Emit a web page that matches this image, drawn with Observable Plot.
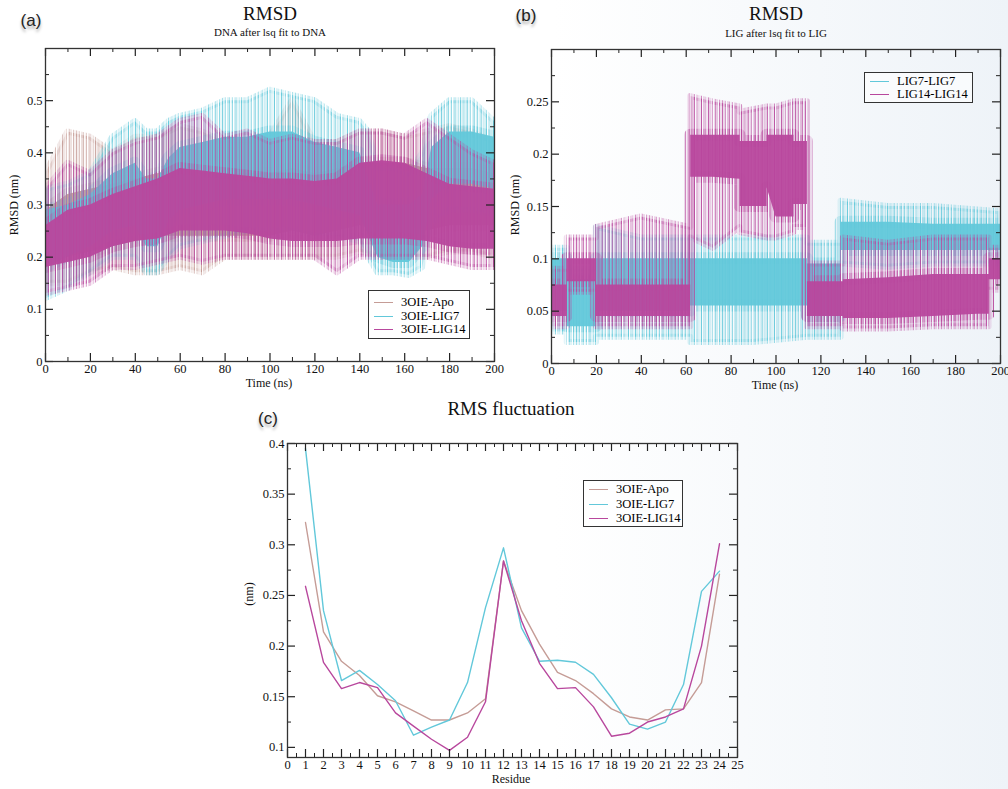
<!DOCTYPE html>
<html>
<head>
<meta charset="utf-8">
<script src="https://cdn.jsdelivr.net/npm/d3@7"></script>
<script src="https://cdn.jsdelivr.net/npm/@observablehq/plot@0.6"></script>
<style>
  html, body { margin: 0; padding: 0; }
  body { width: 1008px; height: 789px; overflow: hidden;
         background: linear-gradient(90deg, #ffffff 0%, #ffffff 55%, #eef3f8 100%); }
  #wrap { position: relative; width: 1008px; height: 789px; font-family: "Liberation Serif", serif; }
  .abs { position: absolute; white-space: nowrap; color: #111; }
  .c { transform: translate(-50%, -50%); }
  .title { font-size: 19px; }
  .sub { font-size: 11px; }
  .axl { font-size: 12px; }
  .rot { transform: translate(-50%, -50%) rotate(-90deg); }
  .pl { font-family: "Liberation Sans", Arial, sans-serif; font-size: 17px; color: #222;
        text-shadow: 0 3px 3px rgba(0,0,0,0.35), 0 0 2px #fff; }
  .leg { position: absolute; border: 1.3px solid #333; background: rgba(255,255,255,0.6); box-sizing: border-box; }
  .leg .row { position: absolute; left: 0; font-size: 12.5px; display: flex; align-items: center; }
  .leg .row span.ln { display: inline-block; width: 19px; height: 0; border-top: 1.5px solid; margin-left: 5px; margin-right: 8px; }
  .panel { position: absolute; overflow: visible; }
  .panel text { font-family: "Liberation Serif", serif !important; font-size: 12.5px !important; fill: #111; }
</style>
</head>
<body>
<svg width="0" height="0" style="position:absolute">
  <defs id="pats"></defs>
</svg>
<div id="wrap"></div>
<script>
// ---------------- data ----------------
// Panel (a): RMSD of DNA, envelopes (nm)
const tA = [0,10,20,30,40,50,60,70,80,90,100,110,120,130,140,150,160,170,180,190,200];
const apoCoreLo  = [.19,.20,.21,.22,.23,.24,.24,.24,.24,.24,.24,.25,.24,.25,.26,.26,.26,.25,.26,.26,.26];
const apoCoreHi  = [.29,.32,.33,.34,.35,.36,.37,.36,.36,.36,.36,.37,.36,.37,.38,.38,.38,.37,.37,.37,.36];
const apoSpikeLo = [.15,.15,.17,.18,.17,.17,.18,.17,.20,.20,.20,.20,.20,.20,.21,.20,.20,.20,.21,.21,.20];
const apoSpikeHi = [.36,.44,.43,.40,.43,.43,.45,.44,.42,.42,.43,.50,.42,.42,.44,.44,.43,.44,.45,.44,.42];

const l14aCoreLo  = [.18,.19,.20,.22,.23,.235,.25,.25,.25,.245,.235,.23,.23,.23,.235,.235,.235,.23,.22,.215,.215];
const l14aCoreHi  = [.26,.29,.30,.32,.335,.35,.37,.365,.36,.355,.35,.35,.345,.35,.38,.385,.38,.36,.34,.335,.33];
const l14aSpikeLo = [.13,.14,.15,.18,.18,.19,.20,.19,.20,.20,.20,.20,.20,.17,.20,.20,.20,.20,.19,.18,.18];
const l14aSpikeHi = [.33,.38,.36,.40,.42,.43,.46,.47,.43,.44,.42,.43,.42,.42,.44,.44,.43,.46,.43,.40,.38];

const tA7 = [0,10,20,30,40,45,50,55,60,70,80,90,100,110,120,130,140,144,148,155,162,168,172,180,190,200];
const l7aCoreLo  = [.18,.20,.22,.25,.26,.22,.22,.27,.29,.30,.31,.31,.31,.31,.30,.29,.28,.24,.20,.19,.19,.22,.31,.34,.34,.33];
const l7aCoreHi  = [.29,.30,.32,.36,.38,.35,.35,.39,.41,.42,.43,.43,.44,.44,.42,.41,.40,.35,.30,.30,.30,.32,.41,.44,.44,.43];
const l7aSpikeLo = [.12,.14,.17,.20,.20,.17,.17,.20,.22,.23,.24,.25,.25,.25,.24,.24,.23,.20,.17,.17,.165,.18,.26,.29,.29,.28];
const l7aSpikeHi = [.33,.34,.36,.43,.46,.44,.44,.46,.47,.48,.50,.50,.52,.51,.50,.47,.46,.44,.37,.37,.36,.40,.47,.50,.50,.46];

// Panel (b): RMSD of ligands (nm)
const tB7 = [0,7,7,20,20,40,62,62,90,114,114,129,129,150,170,200];
const l7bCoreLo  = [.05,.05,.035,.035,.05,.05,.05,.055,.055,.055,.045,.045,.108,.108,.108,.108];
const l7bCoreHi  = [.10,.10,.08,.08,.10,.10,.10,.10,.10,.10,.095,.095,.135,.135,.133,.133];
const l7bSpikeLo = [.03,.03,.02,.02,.025,.025,.025,.02,.02,.025,.025,.025,.095,.092,.095,.095];
const l7bSpikeHi = [.11,.11,.09,.09,.13,.12,.12,.12,.12,.12,.115,.115,.155,.15,.15,.145];

const tB14 = [0,7,7,20,20,40,62,62,72,84,84,96,96,100,108,108,114,114,130,130,150,170,190,195,195,200];
const l14bCoreLo  = [.045,.045,.078,.078,.045,.045,.045,.178,.178,.176,.15,.15,.168,.14,.14,.152,.152,.045,.045,.043,.043,.045,.047,.047,.08,.08];
const l14bCoreHi  = [.075,.075,.100,.100,.075,.075,.075,.218,.218,.218,.212,.212,.218,.218,.218,.212,.212,.078,.078,.080,.082,.085,.085,.085,.100,.100];
const l14bSpikeLo = [.035,.035,.068,.068,.035,.035,.035,.12,.11,.13,.125,.12,.12,.12,.125,.13,.13,.035,.035,.033,.033,.035,.035,.035,.07,.07];
const l14bSpikeHi = [.09,.09,.12,.12,.13,.14,.13,.255,.25,.245,.24,.245,.245,.245,.25,.25,.25,.095,.095,.12,.115,.12,.12,.12,.11,.11];

// Panel (c): RMS fluctuation per residue (nm)
const residues = [1,2,3,4,5,6,7,8,9,10,11,12,13,14,15,16,17,18,19,20,21,22,23,24];
const rmsfApo  = [.322,.214,.185,.171,.151,.145,.136,.127,.127,.134,.148,.284,.235,.202,.174,.166,.153,.138,.130,.127,.137,.138,.164,.271];
const rmsfL7   = [.395,.235,.166,.176,.162,.146,.112,.120,.127,.164,.238,.297,.218,.185,.186,.184,.172,.149,.123,.118,.125,.162,.254,.274];
const rmsfL14  = [.259,.184,.158,.164,.159,.134,.121,.108,.097,.110,.145,.284,.225,.183,.158,.159,.140,.111,.114,.125,.130,.138,.200,.301];

const seriesA = ["3OIE-Apo","3OIE-LIG7","3OIE-LIG14"];
const seriesB = ["LIG7-LIG7","LIG14-LIG14"];
const COL = {apo: "#c59c96", l7: "#62c8da", l14: "#b8479d"};

// ---------------- patterns (noise texture, style only) ----------------
const stripes = [[0,.9,.8],[1.7,.6,.5],[3.1,1.1,.9],[5.0,.5,.45],[6.2,.8,.7],[8.3,.6,.55],[9.6,1.2,.85],[11.9,.5,.4],[13.0,.9,.75],[15.2,.6,.5],[16.5,1.0,.9],[18.6,.5,.45],[19.8,.8,.65],[21.9,1.3,.85],[24.1,.6,.5],[25.5,.9,.8],[27.4,.5,.4],[28.6,1.1,.9],[30.8,.6,.55],[32.2,.8,.7],[34.3,.5,.45],[35.5,1.2,.85],[37.9,.6,.5],[39.2,.9,.8],[41.3,.5,.4],[42.6,1.0,.9],[44.8,.7,.6],[46.4,.5,.45],[47.7,1.2,.85],[50.1,.6,.5],[51.5,.8,.7],[53.6,.5,.4],[54.9,1.1,.9],[57.2,.6,.55],[58.6,.9,.75],[60.7,.5,.45],[62.0,1.3,.85],[64.5,.6,.5],[65.9,.8,.7],[68.0,.5,.4],[69.3,1.0,.9],[71.4,.6,.5]];
const defs = document.getElementById("pats");
for (const [key, col] of Object.entries(COL)) {
  let s = `<pattern id="pat-${key}" patternUnits="userSpaceOnUse" width="73" height="6">`;
  for (const [x, w, o] of stripes) s += `<rect x="${x}" y="0" width="${w}" height="6" fill="${col}" fill-opacity="${o}"/>`;
  s += `</pattern>`;
  defs.insertAdjacentHTML("beforeend", s);
}

// ---------------- helpers ----------------
const wrap = document.getElementById("wrap");
function rows(t, lo, hi, slo, shi) {
  return t.map((x, i) => ({x, lo: lo[i], hi: hi[i], slo: slo[i], shi: shi[i]}));
}
function fmt(d) { return String(+d.toFixed(3)); }
function range(a, b, s) { const r = []; for (let v = a; v <= b + 1e-9; v += s) r.push(+v.toFixed(4)); return r; }

function panel({left, top, width, height, mt, mr, mb, ml, xDomain, yDomain, xMajor, xMinor, yMajor, yMinor, yLabels, marks}) {
  const iw = width - ml - mr, ih = height - mt - mb;
  const tk = "#222";
  const p = Plot.plot({
    width, height, marginTop: mt, marginRight: mr, marginBottom: mb, marginLeft: ml,
    style: {fontFamily: "'Liberation Serif', serif", fontSize: "12.5px", color: "#111", background: "transparent", overflow: "visible"},
    x: {domain: xDomain, ticks: xMajor, tickSize: 0, tickPadding: 3, tickFormat: fmt, label: null},
    y: {domain: yDomain, ticks: yLabels, tickSize: 0, tickPadding: 3, tickFormat: fmt, label: null},
    marks: [
      ...marks,
      Plot.ruleX(xMajor, {x: d => d, insetTop: ih - 8, stroke: tk, strokeWidth: 1.2}),
      Plot.ruleX(xMajor, {x: d => d, insetBottom: ih - 8, stroke: tk, strokeWidth: 1.2}),
      Plot.ruleX(xMinor, {x: d => d, insetTop: ih - 4, stroke: tk, strokeWidth: 1}),
      Plot.ruleX(xMinor, {x: d => d, insetBottom: ih - 4, stroke: tk, strokeWidth: 1}),
      Plot.ruleY(yMajor, {y: d => d, insetRight: iw - 8, stroke: tk, strokeWidth: 1.2}),
      Plot.ruleY(yMajor, {y: d => d, insetLeft: iw - 8, stroke: tk, strokeWidth: 1.2}),
      Plot.ruleY(yMinor, {y: d => d, insetRight: iw - 4, stroke: tk, strokeWidth: 1}),
      Plot.ruleY(yMinor, {y: d => d, insetLeft: iw - 4, stroke: tk, strokeWidth: 1}),
      Plot.frame({stroke: "#333", strokeWidth: 1.3})
    ]
  });
  p.classList.add("panel");
  p.style.left = left + "px";
  p.style.top = top + "px";
  wrap.appendChild(p);
}
function noisy(data, key) {
  return [
    Plot.areaY(data, {x: "x", y1: "slo", y2: "shi", fill: `url(#pat-${key})`, stroke: `url(#pat-${key})`, strokeWidth: 6, strokeOpacity: 0.7, clip: true}),
    Plot.areaY(data, {x: "x", y1: "lo", y2: "hi", fill: COL[key], fillOpacity: 0.95, stroke: `url(#pat-${key})`, strokeWidth: 12, clip: true})
  ];
}
function text(cls, x, y, s) {
  const d = document.createElement("div");
  d.className = "abs " + cls;
  d.style.left = x + "px"; d.style.top = y + "px";
  d.textContent = s;
  wrap.appendChild(d);
}
function legend(x, y, w, h, items, rowYs) {
  const d = document.createElement("div");
  d.className = "leg";
  Object.assign(d.style, {left: x + "px", top: y + "px", width: w + "px", height: h + "px"});
  items.forEach(([name, col], i) => {
    const r = document.createElement("div");
    r.className = "row";
    r.style.top = (rowYs[i] - y - 9) + "px";
    r.style.height = "16px";
    const ln = document.createElement("span");
    ln.className = "ln"; ln.style.borderTopColor = col;
    r.appendChild(ln);
    const tx = document.createElement("span");
    tx.textContent = name;
    r.appendChild(tx);
    d.appendChild(r);
  });
  wrap.appendChild(d);
}

// ---------------- panel (a) ----------------
panel({
  left: 0, top: 0, width: 500, height: 400, mt: 48, mr: 6, mb: 39, ml: 45,
  xDomain: [0, 200], yDomain: [0, 0.6],
  xMajor: range(0, 200, 20), xMinor: range(10, 190, 20),
  yMajor: range(0, 0.5, 0.1), yMinor: range(0.05, 0.55, 0.1), yLabels: range(0, 0.5, 0.1),
  marks: [
    ...noisy(rows(tA, apoCoreLo, apoCoreHi, apoSpikeLo, apoSpikeHi), "apo"),
    ...noisy(rows(tA7, l7aCoreLo, l7aCoreHi, l7aSpikeLo, l7aSpikeHi), "l7"),
    ...noisy(rows(tA, l14aCoreLo, l14aCoreHi, l14aSpikeLo, l14aSpikeHi), "l14")
  ]
});
text("c title", 270, 14, "RMSD");
text("c sub", 270, 32, "DNA after lsq fit to DNA");
text("c axl", 269, 383, "Time (ns)");
text("rot axl", 14, 205, "RMSD (nm)");
text("c pl", 31, 21, "(a)");
legend(368, 290, 102, 49, [[seriesA[0], COL.apo], [seriesA[1], COL.l7], [seriesA[2], COL.l14]], [302, 316, 329]);

// ---------------- panel (b) ----------------
panel({
  left: 500, top: 0, width: 508, height: 400, mt: 49, mr: 8, mb: 37, ml: 51,
  xDomain: [0, 200], yDomain: [0, 0.3],
  xMajor: range(0, 200, 20), xMinor: range(10, 190, 20),
  yMajor: range(0, 0.25, 0.05), yMinor: range(0.025, 0.275, 0.05), yLabels: range(0, 0.25, 0.05),
  marks: [
    ...noisy(rows(tB7, l7bCoreLo, l7bCoreHi, l7bSpikeLo, l7bSpikeHi), "l7"),
    ...noisy(rows(tB14, l14bCoreLo, l14bCoreHi, l14bSpikeLo, l14bSpikeHi), "l14")
  ]
});
text("c title", 776, 14, "RMSD");
text("c sub", 776, 33, "LIG after lsq fit to LIG");
text("c axl", 775, 385, "Time (ns)");
text("rot axl", 515, 205, "RMSD (nm)");
text("c pl", 526, 16, "(b)");
legend(864, 72, 109, 31, [[seriesB[0], COL.l7], [seriesB[1], COL.l14]], [81, 94]);

// ---------------- panel (c) ----------------
const rmsfRows = residues.flatMap((r, i) => [
  {r, v: rmsfApo[i], s: seriesA[0]},
  {r, v: rmsfL7[i], s: seriesA[1]},
  {r, v: rmsfL14[i], s: seriesA[2]}
]);
panel({
  left: 230, top: 400, width: 530, height: 389, mt: 43, mr: 23, mb: 32, ml: 57,
  xDomain: [0, 25], yDomain: [0.09, 0.4],
  xMajor: range(0, 25, 1), xMinor: range(0.5, 24.5, 1),
  yMajor: range(0.1, 0.4, 0.05), yMinor: range(0.125, 0.375, 0.05), yLabels: range(0.1, 0.4, 0.05),
  marks: [
    Plot.line(rmsfRows.filter(d => d.s === seriesA[0]), {x: "r", y: "v", stroke: COL.apo, strokeWidth: 1.4}),
    Plot.line(rmsfRows.filter(d => d.s === seriesA[1]), {x: "r", y: "v", stroke: COL.l7, strokeWidth: 1.4}),
    Plot.line(rmsfRows.filter(d => d.s === seriesA[2]), {x: "r", y: "v", stroke: COL.l14, strokeWidth: 1.4})
  ]
});
text("c title", 511, 409, "RMS fluctuation");
text("c axl", 511, 779, "Residue");
text("rot axl", 249, 594, "(nm)");
text("c pl", 268, 419, "(c)");
legend(583, 480, 100, 47, [[seriesA[0], COL.apo], [seriesA[1], COL.l7], [seriesA[2], COL.l14]], [489, 504, 518]);
</script>
</body>
</html>
